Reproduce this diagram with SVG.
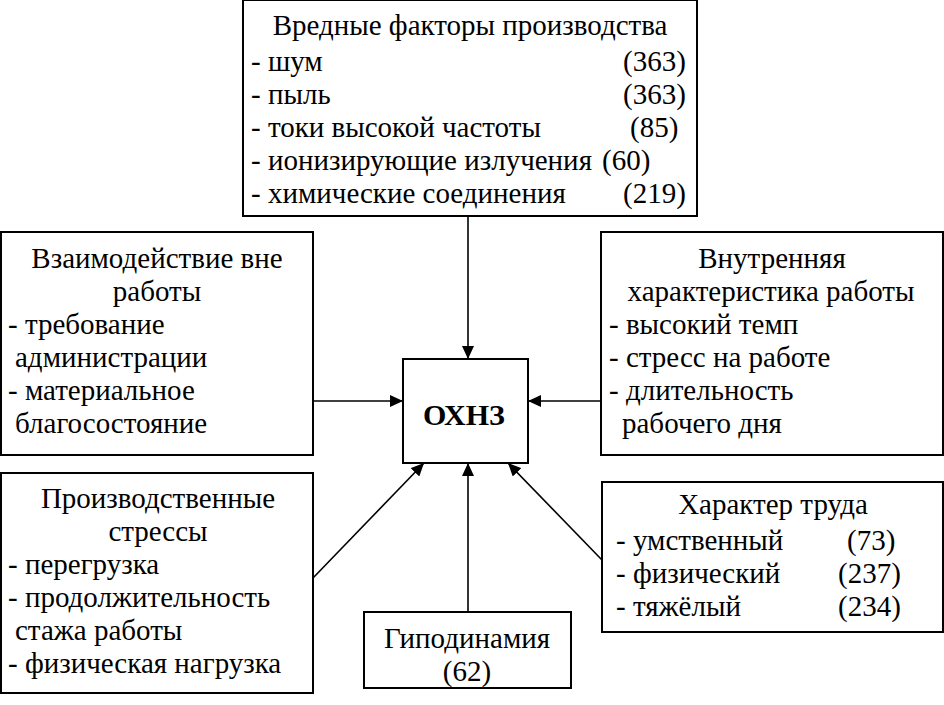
<svg xmlns="http://www.w3.org/2000/svg" width="944" height="705" viewBox="0 0 944 705">
<style>
  .box { fill: #ffffff; stroke: #000000; stroke-width: 2; }
  text { font-family: 'Liberation Serif', 'Times New Roman', serif; font-size: 29px; fill: #000000; }
  .c { text-anchor: middle; }
  .b { font-weight: bold; font-size: 30px; }
  .conn line { stroke: #000000; stroke-width: 1.6; }
</style>
<defs>
  <marker id="arr" markerUnits="userSpaceOnUse" markerWidth="13" markerHeight="12" refX="13" refY="6" orient="auto">
    <path d="M0,0 L13,6 L0,12 z" fill="#000000"/>
  </marker>
</defs>
<rect x="0" y="0" width="944" height="705" fill="#ffffff"/>

<g id="connectors" class="conn">
  <line x1="468" y1="216" x2="468" y2="359" marker-end="url(#arr)"/>
  <line x1="313" y1="401" x2="403" y2="401" marker-end="url(#arr)"/>
  <line x1="601" y1="401" x2="528" y2="401" marker-end="url(#arr)"/>
  <line x1="468" y1="612" x2="468" y2="463" marker-end="url(#arr)"/>
  <line x1="313" y1="578" x2="424" y2="463" marker-end="url(#arr)"/>
  <line x1="602" y1="560" x2="508" y2="463" marker-end="url(#arr)"/>
</g>

<g id="node-harmful">
  <rect class="box" x="243" y="0" width="454" height="216"/>
  <text class="c" x="470" y="35">Вредные факторы производства</text>
  <text x="251" y="71">- шум</text>
  <text x="623" y="71">(363)</text>
  <text x="251" y="104">- пыль</text>
  <text x="623" y="104">(363)</text>
  <text x="251" y="137">- токи высокой частоты</text>
  <text x="630" y="137">(85)</text>
  <text x="251" y="170">- ионизирующие излучения</text>
  <text x="602" y="170">(60)</text>
  <text x="251" y="203">- химические соединения</text>
  <text x="623" y="203">(219)</text>
</g>

<g id="node-outside">
  <rect class="box" x="1" y="232" width="312" height="223"/>
  <text class="c" x="157" y="268">Взаимодействие вне</text>
  <text class="c" x="157" y="301">работы</text>
  <text x="8" y="334">- требование</text>
  <text x="15" y="367">администрации</text>
  <text x="8" y="400">- материальное</text>
  <text x="15" y="433">благосостояние</text>
</g>

<g id="node-internal">
  <rect class="box" x="601" y="232" width="342" height="223"/>
  <text class="c" x="772" y="268">Внутренняя</text>
  <text class="c" x="771" y="301">характеристика работы</text>
  <text x="609" y="334">- высокий темп</text>
  <text x="609" y="367">- стресс на работе</text>
  <text x="609" y="400">- длительность</text>
  <text x="622" y="433">рабочего дня</text>
</g>

<g id="node-ohnz">
  <rect class="box" x="403" y="359" width="125" height="104"/>
  <text class="c b" x="464" y="425">ОХНЗ</text>
</g>

<g id="node-stress">
  <rect class="box" x="1" y="473" width="312" height="220"/>
  <text class="c" x="158" y="508">Производственные</text>
  <text class="c" x="158" y="541">стрессы</text>
  <text x="8" y="574">- перегрузка</text>
  <text x="8" y="607">- продолжительность</text>
  <text x="15" y="640">стажа работы</text>
  <text x="8" y="673">- физическая нагрузка</text>
</g>

<g id="node-hypodynamia">
  <rect class="box" x="364" y="612" width="207" height="76"/>
  <text class="c" x="467" y="648">Гиподинамия</text>
  <text class="c" x="467" y="681">(62)</text>
</g>

<g id="node-labour">
  <rect class="box" x="602" y="482" width="341" height="150"/>
  <text class="c" x="773" y="514">Характер труда</text>
  <text x="616" y="550">- умственный</text>
  <text x="847" y="550">(73)</text>
  <text x="616" y="583">- физический</text>
  <text x="838" y="583">(237)</text>
  <text x="616" y="616">- тяжёлый</text>
  <text x="838" y="616">(234)</text>
</g>
</svg>
